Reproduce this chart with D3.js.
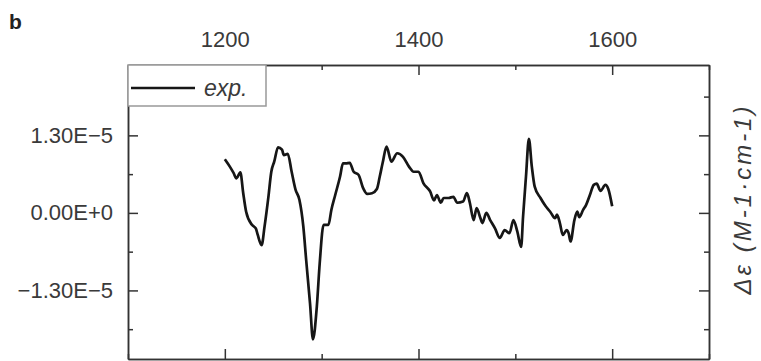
<!DOCTYPE html>
<meta charset="utf-8">
<style>
body { margin: 0; background: #fff; font-family: "Liberation Sans", Arial, sans-serif; }
.axis path, .axis line { fill: none; stroke: #333; stroke-width: 1.5; }
.axis text { fill: #3a3a3a; font-size: 22px; font-family: "Liberation Sans", Arial, sans-serif; }
</style>
<body>
<svg width="761" height="361"></svg>
<script src="https://d3js.org/d3.v7.min.js"></script>
<script>
// wavenumber (cm-1)
var wavenumber = [1200, 1205, 1209, 1212, 1216, 1219, 1222, 1228, 1232, 1234, 1238, 1241, 1245, 1248,
  1251, 1255, 1259, 1261, 1265, 1269, 1273, 1277, 1281, 1284, 1288, 1291, 1295, 1298, 1302, 1307,
  1310, 1314, 1319, 1322, 1325, 1329, 1333, 1338, 1343, 1347, 1352, 1357, 1360, 1363, 1367, 1372,
  1378, 1384, 1390, 1395, 1400, 1405, 1412, 1416, 1419, 1423, 1426, 1431, 1436, 1440, 1446, 1450,
  1453, 1457, 1460, 1464, 1466, 1470, 1474, 1479, 1484, 1489, 1494, 1498, 1502, 1506, 1508, 1511,
  1514, 1517, 1520, 1526, 1531, 1536, 1541, 1543, 1546, 1549, 1553, 1555, 1557, 1561, 1564, 1566,
  1570, 1573, 1577, 1581, 1584, 1588, 1593, 1596, 1600];
// delta epsilon, in units of 1e-5
var deltaEps = [0.90, 0.78, 0.67, 0.58, 0.68, 0.33, 0.02, -0.20, -0.26, -0.37, -0.54, -0.23, 0.27, 0.69,
  0.86, 1.10, 1.06, 0.97, 0.99, 0.69, 0.39, 0.22, -0.22, -0.79, -1.52, -2.12, -1.57, -0.84, -0.20, -0.20,
  0.05, 0.30, 0.61, 0.83, 0.83, 0.84, 0.69, 0.64, 0.41, 0.32, 0.33, 0.40, 0.61, 0.84, 1.11, 0.86,
  1.00, 0.94, 0.78, 0.69, 0.69, 0.50, 0.36, 0.21, 0.30, 0.17, 0.25, 0.25, 0.27, 0.17, 0.19, 0.33,
  0.17, -0.12, 0.08, -0.09, -0.17, 0.00, -0.12, -0.26, -0.42, -0.29, -0.34, -0.12, -0.31, -0.57, -0.06, 0.61,
  1.24, 0.78, 0.44, 0.25, 0.12, 0.02, -0.09, -0.03, -0.17, -0.37, -0.29, -0.34, -0.48, -0.12, 0.02, -0.07,
  0.05, 0.13, 0.30, 0.47, 0.49, 0.37, 0.47, 0.40, 0.11];
var unit = 1e-5;

var xMajor = [1200, 1400, 1600];
var xMinor = [1100, 1300, 1500, 1700];
var yMajor = [-1.3e-5, 0, 1.3e-5];
var yMinor = [-1.95e-5, -0.65e-5, 0.65e-5, 1.95e-5];
var yLabels = ["\u22121.30E\u22125", "0.00E+0", "1.30E\u22125"];

var svg = d3.select("svg"),
    plotL = 128, plotR = 709, plotT = 65, plotB = 359;

var x = d3.scaleLinear().domain([1100, 1700]).range([plotL, plotR]);
var y = d3.scaleLinear().domain([-2.45e-5, 2.48e-5]).range([plotB, plotT]);

var data = wavenumber.map(function (w, i) { return {w: w, v: deltaEps[i] * unit}; });

// top axis with labels
svg.append("g").attr("class", "axis")
    .attr("transform", "translate(0," + plotT + ")")
    .call(d3.axisTop(x).tickValues(xMajor).tickSize(-10).tickSizeOuter(0).tickPadding(18)
      .tickFormat(d3.format("d")));
svg.append("g").attr("class", "axis")
    .attr("transform", "translate(0," + plotT + ")")
    .call(d3.axisTop(x).tickValues(xMinor).tickSize(-5).tickSizeOuter(0).tickFormat(""));

// bottom axis
svg.append("g").attr("class", "axis")
    .attr("transform", "translate(0," + plotB + ")")
    .call(d3.axisBottom(x).tickValues(xMajor).tickSize(-10).tickSizeOuter(0).tickFormat(""));
svg.append("g").attr("class", "axis")
    .attr("transform", "translate(0," + plotB + ")")
    .call(d3.axisBottom(x).tickValues(xMinor).tickSize(-5).tickSizeOuter(0).tickFormat(""));

// left axis with labels
svg.append("g").attr("class", "axis")
    .attr("transform", "translate(" + plotL + ",0)")
    .call(d3.axisLeft(y).tickValues(yMajor).tickSize(-10).tickSizeOuter(0).tickPadding(15)
      .tickFormat(function (d, i) { return yLabels[i]; }));
svg.append("g").attr("class", "axis")
    .attr("transform", "translate(" + plotL + ",0)")
    .call(d3.axisLeft(y).tickValues(yMinor).tickSize(-5).tickSizeOuter(0).tickFormat(""));

// right axis
svg.append("g").attr("class", "axis")
    .attr("transform", "translate(" + plotR + ",0)")
    .call(d3.axisRight(y).tickValues(yMajor).tickSize(-10).tickSizeOuter(0).tickFormat(""));
svg.append("g").attr("class", "axis")
    .attr("transform", "translate(" + plotR + ",0)")
    .call(d3.axisRight(y).tickValues(yMinor).tickSize(-5).tickSizeOuter(0).tickFormat(""));

// spectrum
svg.append("path")
    .datum(data)
    .attr("fill", "none")
    .attr("stroke", "#161616")
    .attr("stroke-width", 2.7)
    .attr("stroke-linejoin", "round")
    .attr("d", d3.line().curve(d3.curveMonotoneX)
      .x(function (d) { return x(d.w); }).y(function (d) { return y(d.v); }));

// legend
var lg = svg.append("g");
lg.append("rect")
    .attr("x", plotL).attr("y", plotT).attr("width", 138).attr("height", 41)
    .attr("fill", "#fff").attr("stroke", "#999").attr("stroke-width", 1.5);
lg.append("line")
    .attr("x1", plotL + 3).attr("x2", plotL + 67).attr("y1", 88).attr("y2", 88)
    .attr("stroke", "#161616").attr("stroke-width", 2.6);
lg.append("text")
    .attr("x", plotL + 76).attr("y", 96)
    .style("font-size", "23px").style("font-style", "italic").style("fill", "#3a3a3a")
    .text("exp.");

// panel letter
svg.append("text")
    .attr("x", 9).attr("y", 29)
    .style("font-size", "21px").style("font-weight", "bold").style("fill", "#222")
    .text("b");

// right y label
svg.append("text")
    .attr("transform", "translate(751,199) rotate(-90)")
    .attr("text-anchor", "middle")
    .style("font-size", "24px").style("font-style", "italic").style("fill", "#3a3a3a")
    .style("letter-spacing", "3px")
    .text("\u0394\u03b5 (M-1\u00b7cm-1)");
</script>
</body>
